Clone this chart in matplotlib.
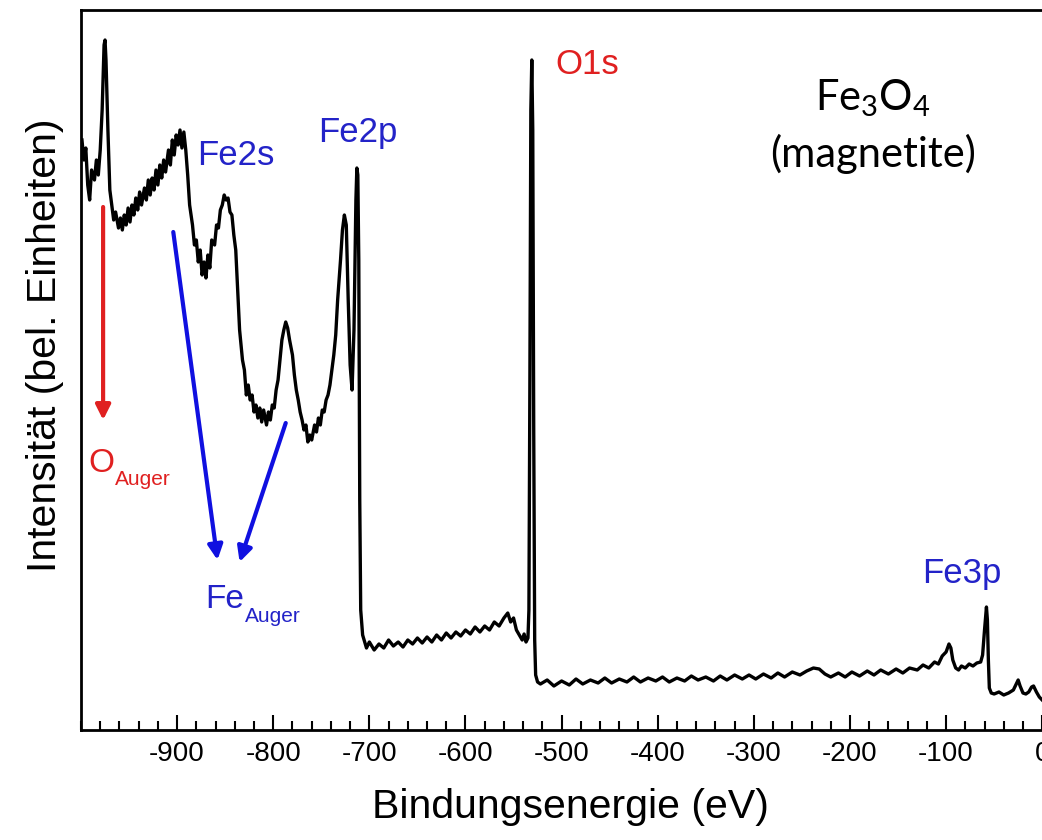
import matplotlib.pyplot as plt

# XPS survey spectrum of Fe3O4 (arbitrary intensity units)
energy = [
    -999, -997, -995, -993, -991, -989, -986, -984, -982, -980, -978, -976, -975, -974, -972, -970,
    -968, -966, -964, -961, -959, -957, -955, -953, -951, -949, -947, -945, -943, -941, -939, -937,
    -934, -932, -930, -928, -926, -924, -922, -920, -918, -916, -914, -912, -909, -907, -905, -903,
    -901, -899, -897, -895, -893, -891, -889, -887, -884, -882, -880, -878, -876, -874, -872, -870,
    -868, -866, -864, -861, -859, -857, -855, -853, -851, -849, -847, -845, -843, -841, -839, -837,
    -835, -832, -830, -828, -826, -824, -822, -820, -818, -816, -814, -812, -810, -807, -805, -803,
    -801, -799, -797, -795, -793, -791, -789, -787, -785, -783, -780, -778, -776, -774, -772, -770,
    -768, -766, -764, -762, -760, -757, -755, -753, -751, -749, -747, -745, -743, -741, -739, -737,
    -735, -733, -730, -728, -726, -724, -722, -720, -718, -716, -714, -713, -712, -711, -710, -709,
    -707, -703, -700, -695, -690, -685, -680, -675, -670, -665, -660, -655, -650, -645, -640, -635,
    -630, -625, -620, -615, -610, -605, -600, -595, -590, -585, -580, -575, -570, -565, -560, -556,
    -553, -550, -547, -544, -541, -539, -537, -535, -534, -533, -532, -531, -530, -529, -528, -527,
    -525, -522, -515, -508, -500, -492, -485, -478, -470, -462, -455, -448, -440, -432, -425, -418,
    -410, -402, -395, -388, -380, -372, -365, -358, -350, -342, -335, -328, -320, -312, -305, -298,
    -290, -282, -275, -268, -260, -252, -245, -238, -232, -226, -220, -212, -205, -198, -190, -182,
    -175, -168, -160, -152, -145, -138, -130, -124, -118, -112, -108, -104, -100, -97, -95, -93,
    -90, -87, -84, -80, -76, -72, -68, -64, -62, -60, -58, -57, -56, -55, -53, -50,
    -45, -40, -35, -30, -27, -25, -23, -20, -17, -14, -11, -9, -6, -3, 0,
]
intensity = [
    590, 570, 582, 545, 530, 560, 550, 570, 555, 580, 620, 685, 690, 670, 600, 540,
    525, 510, 518, 502, 512, 500, 515, 505, 522, 508, 525, 515, 532, 520, 538, 525,
    542, 530, 550, 535, 552, 540, 560, 545, 565, 552, 570, 558, 580, 565, 590, 575,
    595, 585, 600, 582, 598, 580, 555, 525, 505, 485, 490, 468, 480, 455, 468, 452,
    475, 462, 490, 485, 505, 502, 520, 525, 535, 530, 532, 518, 515, 495, 480, 440,
    400, 370, 360, 335, 345, 330, 335, 318, 325, 312, 322, 308, 320, 305, 318, 310,
    325, 322, 340, 350, 370, 390, 400, 408, 402, 390, 375, 355, 340, 330, 318, 310,
    300, 305, 288, 295, 290, 305, 298, 312, 305, 320, 318, 330, 335, 345, 360, 375,
    395, 430, 470, 500, 515, 505, 430, 365, 340, 400, 530, 562, 555, 470, 230, 120,
    95, 82, 88, 80, 86, 82, 90, 84, 88, 83, 90, 86, 92, 87, 93, 88,
    95, 90, 97, 92, 98, 94, 100, 96, 103, 98, 104, 100, 108, 104, 112, 117,
    108, 112, 100, 95, 90, 96, 88, 92, 120, 350, 620, 670, 600, 300, 90, 55,
    48, 46, 50, 44, 49, 45, 51, 46, 50, 47, 52, 47, 51, 48, 53, 48,
    52, 49, 53, 48, 52, 49, 54, 50, 53, 49, 54, 50, 55, 51, 55, 51,
    56, 52, 57, 53, 58, 55, 59, 62, 61, 56, 53, 57, 53, 58, 54, 59,
    55, 60, 56, 61, 57, 62, 60, 65, 62, 68, 66, 74, 78, 86, 82, 70,
    62, 60, 64, 62, 66, 64, 67, 68, 75, 100, 123, 110, 70, 42, 37, 36,
    38, 35, 37, 40, 46, 50, 44, 37, 36, 38, 43, 44, 38, 33, 30,
]

blue = '#2323c8'
red = '#e02020'

plt.rcParams['font.family'] = ['Liberation Sans', 'DejaVu Sans']
plt.rcParams['mathtext.default'] = 'regular'
plt.rcParams['axes.unicode_minus'] = False

fig = plt.figure(figsize=(10.42, 8.4), dpi=100)
ax = fig.add_axes([81 / 1042, 110 / 840, 966 / 1042, 720 / 840])
ax.plot(energy, intensity, color='black', lw=2.4)
ax.set_xlim(-1000, 5)
ax.set_ylim(0, 720)

ax.set_xticks(range(-900, 1, 100))
ax.set_xticks(range(-1000, 1, 20), minor=True)
ax.set_yticks([])
ax.tick_params(axis='x', which='both', direction='in', labelsize=20, pad=8, width=1.5)
ax.tick_params(axis='x', which='major', length=11)
ax.tick_params(axis='x', which='minor', length=6.5)
for spine in ax.spines.values():
    spine.set_linewidth(2)

ax.set_xlabel('Bindungsenergie (eV)', fontsize=29.5)
ax.xaxis.set_label_coords(0.507, -0.08)
ax.set_ylabel('Intensität (bel. Einheiten)', fontsize=29.5)
ax.yaxis.set_label_coords(-0.018, 0.535)

# peak labels
ax.text(-879, 565, 'Fe2s', color=blue, fontsize=25, va='baseline')
ax.text(-753, 588, 'Fe2p', color=blue, fontsize=25, va='baseline')
ax.text(-506, 656, 'O1s', color=red, fontsize=25, va='baseline')
ax.text(-125, 147, 'Fe3p', color=blue, fontsize=25, va='baseline')

# Auger arrows and labels
arrow = dict(arrowstyle='-|>', lw=3, mutation_scale=22, shrinkA=0, shrinkB=0)
ax.annotate('', xy=(-977, 310), xytext=(-977, 523), arrowprops=dict(arrow, color=red))
ax.annotate('', xy=(-858, 170), xytext=(-904, 498), arrowprops=dict(arrow, color='#1010e0'))
ax.annotate('', xy=(-835, 168), xytext=(-787, 307), arrowprops=dict(arrow, color='#1010e0'))
ax.text(-992, 258, 'O', color=red, fontsize=24, va='baseline')
ax.text(-965, 245, 'Auger', color=red, fontsize=15, va='baseline')
ax.text(-871, 122, 'Fe', color=blue, fontsize=24, va='baseline')
ax.text(-829, 108, 'Auger', color=blue, fontsize=15, va='baseline')

ax.text(-176, 620, 'Fe$_3$O$_4$', family='Lato', fontsize=30, ha='center', va='baseline')
ax.text(-176, 563, '(magnetite)', family='Lato', fontsize=30, ha='center', va='baseline')

fig.savefig('out.png', dpi=100)
